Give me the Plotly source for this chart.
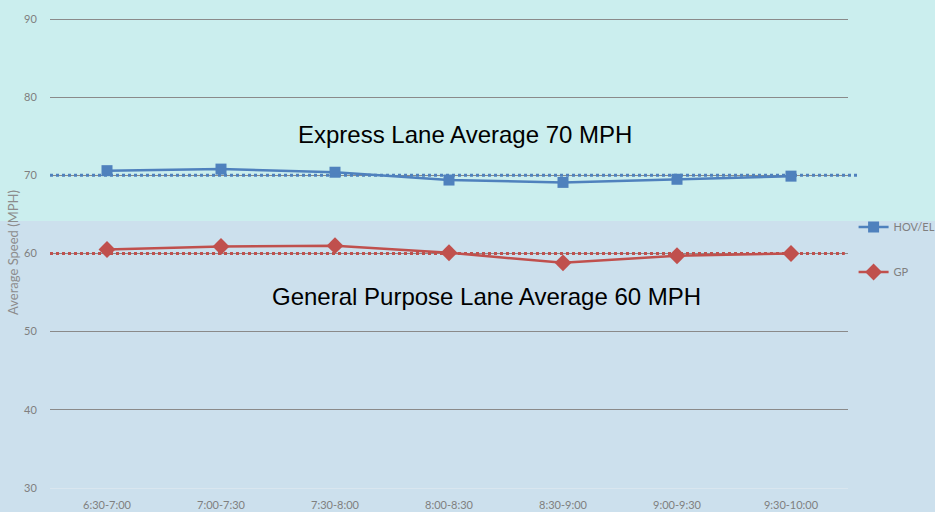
import plotly.graph_objects as go

categories = ["6:30-7:00", "7:00-7:30", "7:30-8:00", "8:00-8:30", "8:30-9:00", "9:00-9:30", "9:30-10:00"]
hov_el = [70.6, 70.8, 70.4, 69.4, 69.1, 69.5, 69.9]
gp = [60.5, 60.9, 61.0, 60.1, 58.8, 59.7, 60.0]
express_avg = 70
gp_avg = 60
y_ticks = [30, 40, 50, 60, 70, 80, 90]

BLUE = "#4F81BD"
RED = "#C0504D"
TOP_BG = "rgb(203,238,238)"
BOT_BG = "rgb(204,224,237)"
GRAY = "#7f7f7f"

xs = list(range(len(categories)))

fig = go.Figure()
fig.add_trace(go.Scatter(
    x=xs, y=hov_el, name="HOV/EL", mode="lines+markers", legendgroup="a",
    line=dict(color=BLUE, width=2.5),
    marker=dict(symbol="square", size=11, color=BLUE),
))
fig.add_trace(go.Scatter(
    x=xs, y=gp, name="GP", mode="lines+markers", legendgroup="b",
    line=dict(color=RED, width=2.5),
    marker=dict(symbol="diamond", size=13, color=RED),
))

shapes = [
    dict(type="rect", xref="paper", yref="paper", x0=-0.1, x1=1.2, y0=0.567, y1=1.1,
         fillcolor=TOP_BG, line=dict(width=0), layer="below"),
    dict(type="line", xref="x domain", yref="y", x0=0, x1=1.013, y0=express_avg, y1=express_avg,
         line=dict(color=BLUE, width=3, dash="dot"), layer="above"),
    dict(type="line", xref="x domain", yref="y", x0=0, x1=0.996, y0=gp_avg, y1=gp_avg,
         line=dict(color=RED, width=3, dash="dot"), layer="above"),
]

annotations = [
    dict(x=3.14, y=75.2, xref="x", yref="y", text="Express Lane Average 70 MPH", showarrow=False,
         font=dict(family="Liberation Sans, Arial", size=24, color="black")),
    dict(x=3.33, y=54.45, xref="x", yref="y", text="General Purpose Lane Average 60 MPH", showarrow=False,
         font=dict(family="Liberation Sans, Arial", size=24, color="black")),
]

fig.update_layout(
    width=935, height=512,
    margin=dict(l=50, r=87, t=17, b=24, autoexpand=False),
    paper_bgcolor=BOT_BG,
    plot_bgcolor="rgba(0,0,0,0)",
    font=dict(family="Lato, Noto Sans", size=11, color=GRAY),
    shapes=shapes,
    annotations=annotations,
    showlegend=True,
    legend=dict(x=1.007, y=0.585, xanchor="left", yanchor="top",
                bgcolor="rgba(0,0,0,0)", traceorder="grouped", tracegroupgap=26,
                itemwidth=30, font=dict(size=11, color=GRAY)),
    xaxis=dict(range=[-0.5, 6.5], tickmode="array", tickvals=xs, ticktext=categories,
               showgrid=False, showline=True, linecolor="#d9e6ef", linewidth=1,
               ticks="outside", ticklen=7, tickcolor="rgba(0,0,0,0)",
               tickfont=dict(size=11, color=GRAY), zeroline=False, automargin=False),
    yaxis=dict(range=[29.98, 90.27], tickmode="array", tickvals=y_ticks, showgrid=True,
               gridcolor="#8a8a8a", gridwidth=1, zeroline=False,
               ticks="outside", ticklen=10, tickcolor="rgba(0,0,0,0)", automargin=False,
               title=dict(text="Average Speed (MPH)", font=dict(size=13, color="#8c8c8c"), standoff=2),
               tickfont=dict(size=11, color=GRAY)),
)

fig.write_html("out.html", config={"displayModeBar": False},
               post_script="document.body.style.margin='0';document.body.style.overflow='hidden';")
